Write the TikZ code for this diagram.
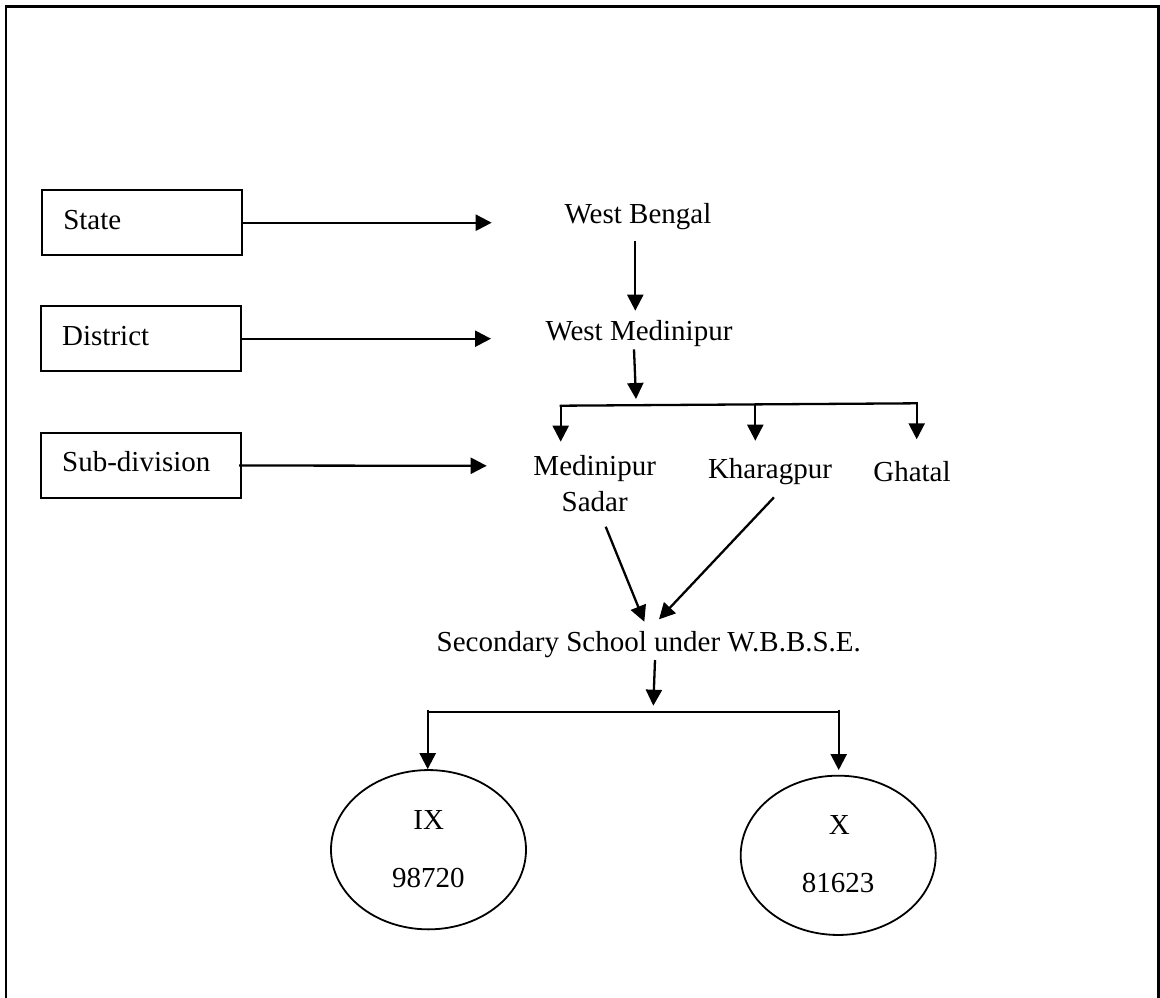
\documentclass[tikz,border=0pt]{standalone}
\usepackage{fontspec}
\setmainfont{Liberation Serif}
\usetikzlibrary{arrows.meta,shapes.geometric,calc}

\begin{document}
\begin{tikzpicture}[x=1pt,y=-1pt,
  txt/.style={font=\fontsize{29}{36.7}\selectfont, inner sep=0pt, anchor=base},
  stagebox/.style={draw, line width=1.8pt, font=\fontsize{29}{36.7}\selectfont,
    minimum width=200pt, minimum height=64.7pt, text width=158pt,
    inner xsep=21pt, inner ysep=0pt, align=left, text height=20pt, text depth=7.4pt},
  classring/.style={draw, ellipse, line width=1.8pt, minimum width=195pt,
    minimum height=159.3pt, inner sep=0pt},
  link/.style={line width=2.3pt},
  arr/.style={link, -{Triangle[length=16pt,width=16pt]}}
]
\useasboundingbox (0,0) rectangle (1160,997);

% open frame (bottom edge runs off the page)
\draw[line width=2.6pt] (6,1010) -- (6,6.7) -- (1158.5,6.7) -- (1158.5,1010);

% administrative levels
\node[stagebox] (state) at (142.3,222.7) {State};
\node[stagebox] (district) at (141.2,338.7) {District};
\node[stagebox] (subdiv) at (141.2,465.5) {Sub-division};

% hierarchy
\node[txt] (wb) at (638,223.3) {West Bengal};
\node[txt] (wm) at (639,340) {West Medinipur};
\node[txt] (sadar) at (594.7,475) {\begin{tabular}[t]{@{}c@{}}Medinipur\\Sadar\end{tabular}};
\node[txt] (kgp) at (770,478.3) {Kharagpur};
\node[txt] (ghatal) at (912,481.7) {Ghatal};
\node[txt] (school) at (648.8,651.7) {Secondary School under W.B.B.S.E.};

% classes
\node[classring] (nine) at (428.5,849.7) {};
\node[classring] (ten) at (838.2,855.3) {};
\node[txt] (ninename) at (428.7,829.3) {IX};
\node[txt] (ninecount) at (428.3,887.3) {98720};
\node[txt] (tenname) at (839.3,834) {X};
\node[txt] (tencount) at (838,892.3) {81623};

% level arrows
\coordinate (statetip) at (491.7,222.7);
\coordinate (districttip) at (491,338.7);
\coordinate (subdivtip) at (486.7,465.8);
\draw[arr] (state.east) -- (statetip);
\draw[arr] (district.east) -- (districttip);
\draw[arr] ([xshift=-3pt]subdiv.east) -- (subdivtip);

% state to district
\draw[arr] ($(wb.base)+(-2.7,17.7)$) -- ($(wm.base)+(-3.7,-29.3)$);

% district to sub-divisions
\coordinate (wmtip) at (636,399);
\draw[arr] ($(wm.base)+(-5,9.3)$) -- (wmtip);
\coordinate (forkL) at (560.7,405.7);
\coordinate (forkM) at (755.3,404.5);
\coordinate (forkR) at (916.7,403.3);
\draw[link, line cap=rect] (forkL) -- (forkR);
\draw[arr] (forkL) -- ($(sadar.base)+(-34,-33.3)$);
\draw[arr] (forkM) -- ($(kgp.base)+(-14.7,-37.6)$);
\draw[arr] (forkR) -- ($(ghatal.base)+(4.7,-42.4)$);

% sub-divisions to schools
\draw[arr] ($(sadar.base)+(11,51.7)$) -- ($(school.base)+(-4.5,-30)$);
\draw[arr] ($(kgp.base)+(4,19)$) -- ($(school.base)+(10.2,-32.4)$);

% schools to classes
\draw[arr] ($(school.base)+(6.2,8.3)$) -- ($(school.base)+(4.5,54)$);
\coordinate (splitL) at (427.7,711.7);
\coordinate (splitR) at (838.7,711.7);
\draw[link] (splitL) -- (splitR);
\draw[arr] ([yshift=2pt]splitL) -- (splitL |- nine.north);
\draw[arr] ([yshift=2pt]splitR) -- ($(splitR |- ten.north)+(0,-4.7)$);
\end{tikzpicture}
\end{document}
